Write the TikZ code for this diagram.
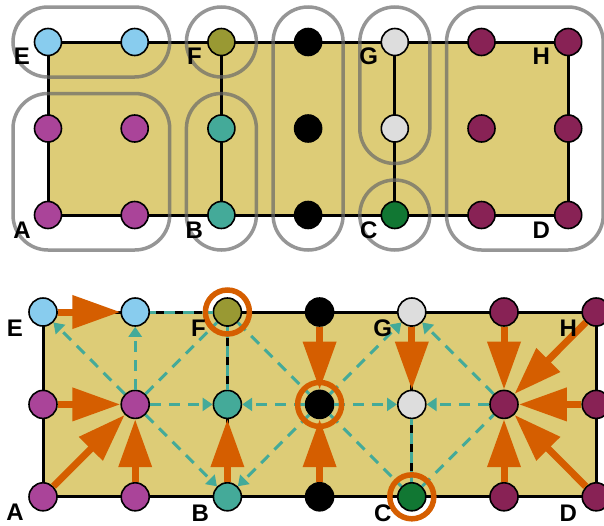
\documentclass[tikz,border=0pt]{standalone}
\usepackage{fontspec}
\setsansfont{Liberation Sans}
\usetikzlibrary{arrows.meta,calc,backgrounds}
\definecolor{tolsand}{HTML}{DDCC77}
\definecolor{tolcyan}{HTML}{88CCEE}
\definecolor{tolpurple}{HTML}{AA4499}
\definecolor{tololive}{HTML}{999933}
\definecolor{tolteal}{HTML}{44AA99}
\definecolor{tolgrey}{HTML}{DDDDDD}
\definecolor{tolgreen}{HTML}{117733}
\definecolor{tolwine}{HTML}{882255}
\definecolor{vermilion}{HTML}{D55E00}
\definecolor{hullgrey}{RGB}{105,105,105}
\tikzset{
  site/.style={circle,draw=black,line width=1.6pt,minimum size=27pt,
    inner sep=0pt,fill=#1},
  lbl/.style={font=\sffamily\bfseries\fontsize{24}{24}\selectfont,inner sep=0pt},
  edge/.style={draw=black,line width=3pt},
  hull/.style={draw=hullgrey,draw opacity=0.7,line width=3.5pt,rounded corners=35pt},
  interp/.style={draw=tolteal,line width=3pt,dash pattern=on 11pt off 8pt},
  interpto/.style={interp,-{Triangle[length=10pt,width=13pt]}},
  inject/.style={draw=vermilion,fill=vermilion,line width=7pt,
    -{Triangle[length=48pt,width=32pt]}},
  coarse/.style={draw=vermilion,line width=5.5pt},
}

\begin{document}
\begin{tikzpicture}[x=1pt,y=-1pt]
\useasboundingbox (0,0) rectangle (604,525);

% grid points, same colouring in both panels
\foreach \c/\r/\clr in {0/0/tolcyan,1/0/tolcyan,2/0/tololive,3/0/black,
    4/0/tolgrey,5/0/tolwine,6/0/tolwine,
    0/1/tolpurple,1/1/tolpurple,2/1/tolteal,3/1/black,
    4/1/tolgrey,5/1/tolwine,6/1/tolwine,
    0/2/tolpurple,1/2/tolpurple,2/2/tolteal,3/2/black,
    4/2/tolgreen,5/2/tolwine,6/2/tolwine}
{
  \node[site=\clr] (t\c\r) at ({48+86.7*\c},{42+86.5*\r}) {};
  \node[site=\clr,minimum size=28pt] (b\c\r) at ({43+92.2*\c},{312+92.4*\r}) {};
}

\begin{scope}[on background layer]
  \fill[tolsand] (t00.center) rectangle (t62.center);
  \draw[edge] (t00.center) rectangle (t62.center);
  \draw[edge] (t20.center) -- (t22.center);
  \draw[edge] (t40.center) -- (t42.center);
  \fill[tolsand] (b00.center) rectangle (b62.center);
  \draw[edge] (b00.center) rectangle (b62.center);
  \draw[edge] (b20.center) -- (b22.center);
  \draw[edge] (b40.center) -- (b42.center);
\end{scope}

% aggregates
\draw[hull] ($(t00)+(-35,-35)$) rectangle ($(t10)+(35,35)$);
\draw[hull] ($(t01)+(-35,-35)$) rectangle ($(t12)+(35,35)$);
\draw[hull] ($(t20)+(-35,-35)$) rectangle ($(t20)+(35,35)$);
\draw[hull] ($(t21)+(-35,-35)$) rectangle ($(t22)+(35,35)$);
\draw[hull] ($(t30)+(-35,-35)$) rectangle ($(t32)+(35,35)$);
\draw[hull] ($(t40)+(-35,-35)$) rectangle ($(t41)+(35,35)$);
\draw[hull] ($(t42)+(-35,-35)$) rectangle ($(t42)+(35,35)$);
\draw[hull] ($(t50)+(-35,-35)$) rectangle ($(t62)+(35,35)$);

% interpolation
\draw[interpto] (b11) -- (b00);
\draw[interpto] (b11) -- (b10);
\draw[interp] (b11) -- (b20);
\draw[interpto] (b11) -- (b21);
\draw[interpto] (b11) -- (b22);
\draw[interp] (b20) -- (b10);
\draw[interp] (b20) -- (b21);
\draw[interp] (b20) -- (b31);
\draw[interpto] (b31) -- (b21);
\draw[interpto] (b31) -- (b22);
\draw[interpto] (b31) -- (b40);
\draw[interpto] (b31) -- (b41);
\draw[interp] (b31) -- (b42);
\draw[interp] (b42) -- (b41);
\draw[interp] (b42) -- (b51);
\draw[interpto] (b51) -- (b40);
\draw[interpto] (b51) -- (b41);

% restriction onto the roots
\draw[inject] (b00) -- (b10);
\draw[inject] (b01) -- (b11);
\draw[inject] (b02) -- (b11);
\draw[inject] (b12) -- (b11);
\draw[inject] (b22) -- (b21);
\draw[inject] (b30) -- (b31);
\draw[inject] (b32) -- (b31);
\draw[inject] (b40) -- (b41);
\draw[inject] (b50) -- (b51);
\draw[inject] (b60) -- (b51);
\draw[inject] (b61) -- (b51);
\draw[inject] (b62) -- (b51);
\draw[inject] (b52) -- (b51);

\draw[coarse] (b20) circle (22);
\draw[coarse] (b31) circle (22);
\draw[coarse] (b42) circle (22);

% corner letters
\node[lbl] (tE) at ($(t00)+(-26,14)$) {E};
\node[lbl] (tA) at ($(t02)+(-26,15)$) {A};
\node[lbl] (tF) at ($(t20)+(-27,14)$) {F};
\node[lbl] (tB) at ($(t22)+(-27,15)$) {B};
\node[lbl] (tG) at ($(t40)+(-26,14)$) {G};
\node[lbl] (tC) at ($(t42)+(-26,15)$) {C};
\node[lbl] (tH) at ($(t60)+(-27,14)$) {H};
\node[lbl] (tD) at ($(t62)+(-27,15)$) {D};
\node[lbl] (bE) at ($(b00)+(-28,16)$) {E};
\node[lbl] (bA) at ($(b02)+(-28,15)$) {A};
\node[lbl] (bF) at ($(b20)+(-29,16)$) {F};
\node[lbl] (bB) at ($(b22)+(-27,16)$) {B};
\node[lbl] (bG) at ($(b40)+(-29,16)$) {G};
\node[lbl] (bC) at ($(b42)+(-29,16)$) {C};
\node[lbl] (bH) at ($(b60)+(-28,16)$) {H};
\node[lbl] (bD) at ($(b62)+(-28,16)$) {D};
\end{tikzpicture}
\end{document}
